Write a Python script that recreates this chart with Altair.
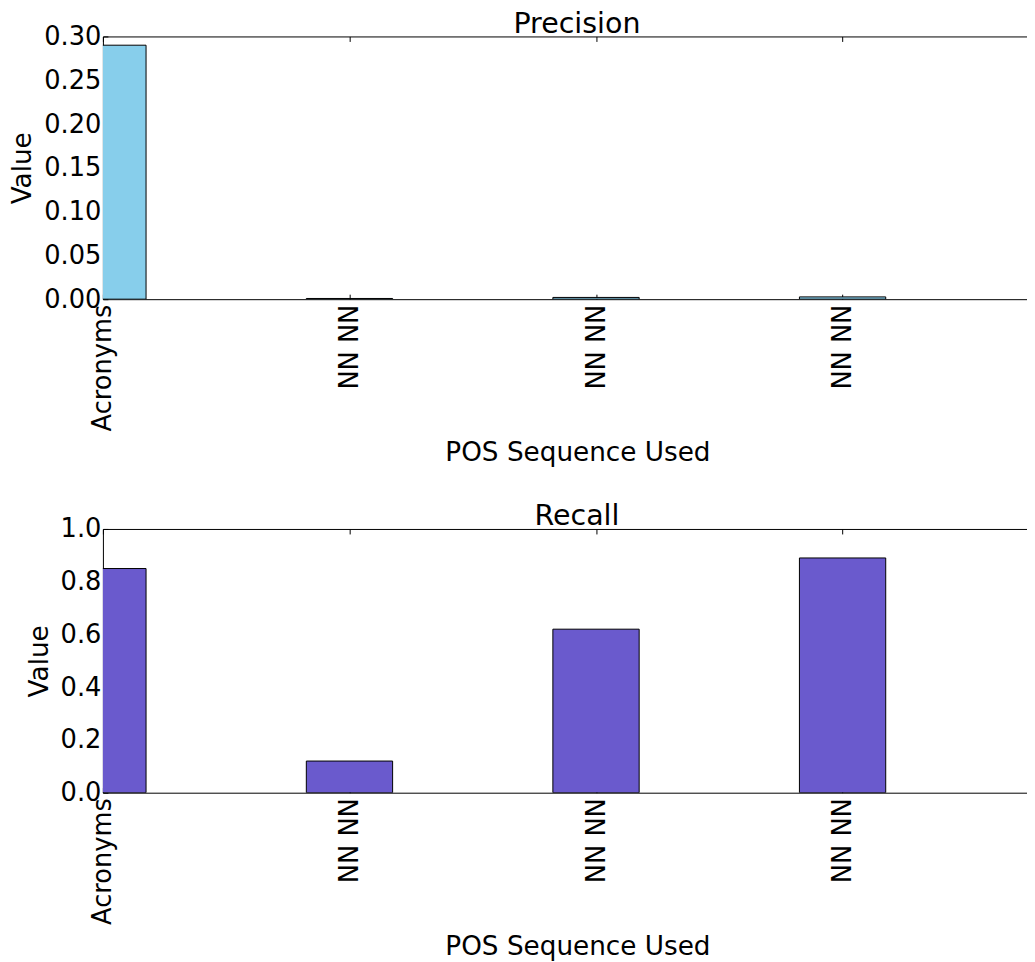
import altair as alt
import pandas as pd

categories = ["Acronyms", "NN NN", "NN NN", "NN NN"]
precision = [0.29, 0.0008, 0.002, 0.0026]
recall = [0.85, 0.12, 0.62, 0.89]

precision_ticks = [0.0, 0.05, 0.10, 0.15, 0.20, 0.25, 0.30]
recall_ticks = [0.0, 0.2, 0.4, 0.6, 0.8, 1.0]
x_ticks = list(range(len(categories)))

FONT = "DejaVu Sans"
XMAX = 3.748
BAR_HALF = 0.175
PLOT_W = 925

label_expr = "[" + ",".join("'" + c + "'" for c in categories) + "][datum.value]"


def panel(values, color, title, ydomain, yticks, yfmt, height):
    df = pd.DataFrame({"idx": x_ticks, "cat": categories, "val": values})
    base = alt.Chart(df).transform_calculate(
        x0=f"datum.idx - {BAR_HALF}", x1=f"datum.idx + {BAR_HALF}", zero="0"
    )
    xscale = alt.Scale(domain=[0, XMAX], nice=False, zero=False)
    yscale = alt.Scale(domain=ydomain, nice=False, zero=True)
    bars = base.mark_rect(color=color, stroke="black", strokeWidth=1, clip=True).encode(
        x=alt.X(
            "x0:Q",
            scale=xscale,
            axis=alt.Axis(
                orient="bottom",
                values=x_ticks,
                labelExpr=label_expr,
                labelAngle=-90,
                labelAlign="right",
                labelBaseline="middle",
                labelPadding=10,
                labelFlush=False,
                labelOverlap=False,
                labelBound=False,
                title="POS Sequence Used",
                titleX=475,
                titlePadding=9,
            ),
        ),
        x2="x1:Q",
        y=alt.Y(
            "val:Q",
            scale=yscale,
            axis=alt.Axis(
                values=yticks,
                format=yfmt,
                title="Value",
                labelPadding=7,
                labelFlush=False,
                labelOverlap=False,
                titlePadding=7,
            ),
        ),
        y2="zero:Q",
    )
    top = base.mark_point(opacity=0).encode(
        x=alt.X(
            "idx:Q",
            scale=xscale,
            axis=alt.Axis(orient="top", values=x_ticks, labels=False, title=None),
        ),
    )
    return (
        alt.layer(bars, top)
        .resolve_axis(x="independent")
        .properties(
            width=PLOT_W,
            height=height,
            title=alt.TitleParams(
                title, font=FONT, fontSize=28.5, fontWeight="normal", color="black",
                offset=-15, dx=12,
            ),
        )
    )


p1 = panel(precision, "#87CEEB", "Precision", [0, 0.30], precision_ticks, ".2f", 263)
p2 = panel(recall, "#6A5ACD", "Recall", [0, 1.0], recall_ticks, ".1f", 264)

chart = (
    alt.vconcat(p1, p2, spacing=35)
    .properties(padding={"left": 1, "top": 1, "right": 0, "bottom": 0})
    .configure_view(stroke=None)
    .configure_axis(
        labelFont=FONT,
        titleFont=FONT,
        labelFontSize=25.7,
        titleFontSize=26.3,
        titleFontWeight="normal",
        labelColor="black",
        titleColor="black",
        domainColor="black",
        domainWidth=1,
        tickColor="black",
        tickWidth=1,
        tickSize={"expr": "-5"},
        grid=False,
    )
)

chart.save("out.html", embed_options={"renderer": "svg", "actions": False})
